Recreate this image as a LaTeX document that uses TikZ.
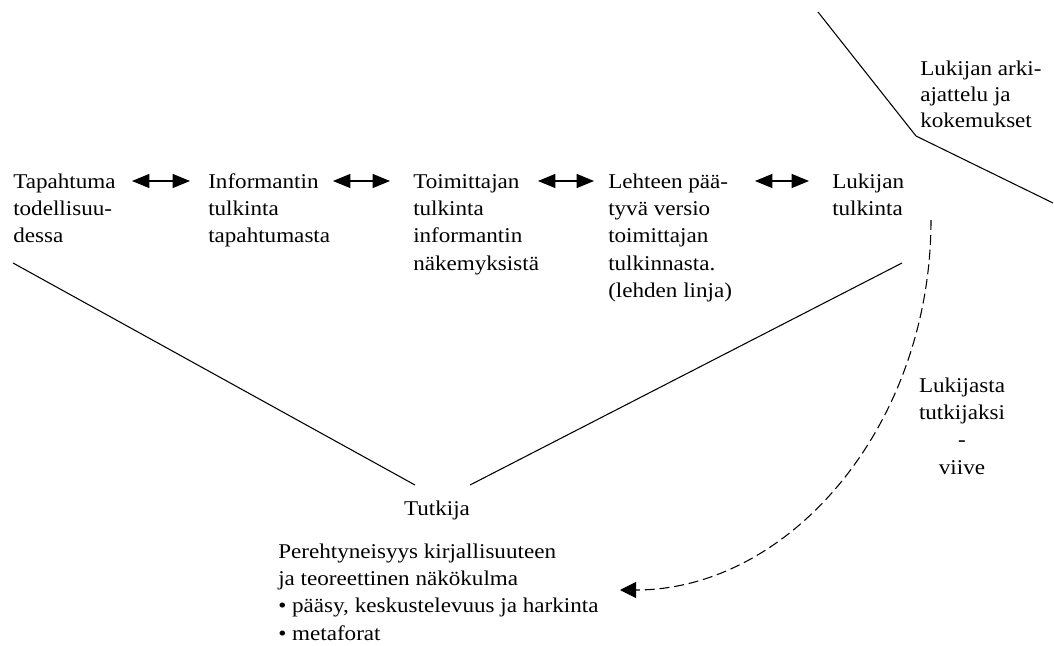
\documentclass[tikz,border=0pt]{standalone}
\usepackage{fontspec}
\setmainfont{Liberation Serif}[FakeStretch=1.1]
\usetikzlibrary{arrows.meta}
% a block of lines whose baseline is that of its first line
\newcommand{\txtstack}[2][l]{\begin{tabular}[t]{@{}#1@{}}#2\end{tabular}}
\begin{document}
\begin{tikzpicture}[x=0.75pt,y=-0.75pt,
  txt/.style={anchor=base west,inner sep=0pt,
    font=\fontsize{15.75pt}{20.5pt}\selectfont},
  ctxt/.style={txt,anchor=base},
  link/.style={line width=0.8pt,{Triangle[length=13pt,width=10.5pt]}-{Triangle[length=13pt,width=10.5pt]}},
  edge/.style={line width=0.8pt},
  lag/.style={line width=0.8pt,dash pattern=on 7.5pt off 3.6pt,-{Triangle[length=12pt,width=12pt]}}]
\useasboundingbox (0,0) rectangle (1054,646);

% the chain of interpretations
\node[txt] (tap) at (13,188) {\txtstack{Tapahtuma\\todellisuu-\\dessa}};
\node[txt] (inf) at (208,188) {\txtstack{Informantin\\tulkinta\\tapahtumasta}};
\node[txt] (toi) at (413,188) {\txtstack{Toimittajan\\tulkinta\\informantin\\näkemyksistä}};
\node[txt] (leh) at (608,188) {\txtstack{Lehteen pää-\\tyvä versio\\toimittajan\\tulkinnasta.\\(lehden linja)}};
\node[txt] (luk) at (832,188) {\txtstack{Lukijan\\tulkinta}};

\coordinate (a1l) at (132,181); \coordinate (a1r) at (190,181);
\coordinate (a2l) at (333,181); \coordinate (a2r) at (390,181);
\coordinate (a3l) at (538,181); \coordinate (a3r) at (594,181);
\coordinate (a4l) at (755,181); \coordinate (a4r) at (809,181);
\draw[link] (a1l) -- (a1r);
\draw[link] (a2l) -- (a2r);
\draw[link] (a3l) -- (a3r);
\draw[link] (a4l) -- (a4r);

% reader's everyday thinking
\node[txt,font=\fontsize{15.75pt}{19.8pt}\selectfont] (arki) at (920,75) {\txtstack{Lukijan arki-\\ajattelu ja\\kokemukset}};
\coordinate (k1) at (818,12);
\coordinate (k2) at (916,136);
\coordinate (k3) at (1053,203);
\draw[edge] (k1) -- (k2) -- (k3);

% researcher
\node[ctxt] (tutk) at (437,515) {Tutkija};
\coordinate (vl) at (13,263);
\coordinate (vr) at (902,263);
\coordinate (vlb) at (415,485);
\coordinate (vrb) at (470,485);
\draw[edge] (vl) -- (vlb);
\draw[edge] (vr) -- (vrb);

\node[txt] (pere) at (278,558) {\txtstack{Perehtyneisyys kirjallisuuteen\\ja teoreettinen näkökulma\\• pääsy, keskustelevuus ja harkinta\\• metaforat}};

% delay from reader to researcher
\coordinate (ds) at (931,220);
\coordinate (de) at (620,590);
\draw[lag] (ds) .. controls (931,425) and (790,590) .. (de);
\node[ctxt] (viive) at (962,392) {\txtstack[c]{Lukijasta\\tutkijaksi\\-\\viive}};
\end{tikzpicture}
\end{document}
